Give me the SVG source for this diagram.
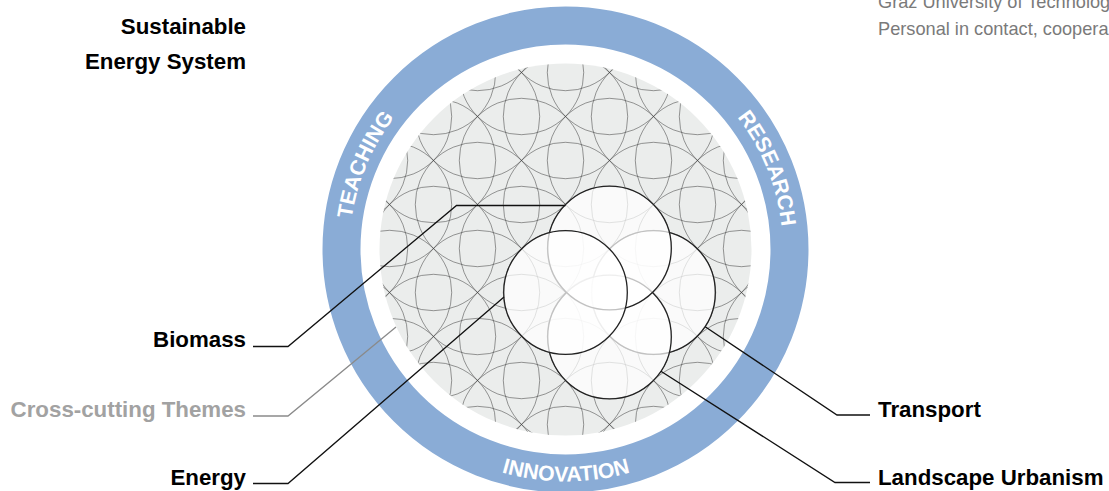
<svg xmlns="http://www.w3.org/2000/svg" xmlns:xlink="http://www.w3.org/1999/xlink" width="1109" height="491" viewBox="0 0 1109 491">
<style>
.lbl{font-family:"Liberation Sans",Arial,Helvetica,sans-serif;font-weight:bold;font-size:22.3px;fill:#000}
.gray{fill:#a2a2a2}
.note{font-family:"Liberation Sans",Arial,Helvetica,sans-serif;font-size:18.2px;fill:#7a7a7a}
.ring{font-family:"Liberation Sans",Arial,Helvetica,sans-serif;font-weight:bold;font-size:21.3px;fill:#fff}
.pat circle{fill:none;stroke:#333;stroke-opacity:0.55;stroke-width:0.9}
.big{fill:#fff;fill-opacity:0.72;stroke:#222;stroke-width:1.3}
.conn{fill:none;stroke:#111;stroke-width:1.3}
.conn .g{stroke:#8a8a8a}
</style>
<defs>
<clipPath id="disk"><circle cx="565.5" cy="249.5" r="186"/></clipPath>
<path id="pTeach" d="M365.1,331.2 A216.7,216.7 0 0 1 484.8,49.1"/>
<path id="pRes" d="M650.7,50.5 A216.7,216.7 0 0 1 765.5,334.7"/>
<path id="pInno" d="M402.4,413.6 A231.3,231.3 0 0 0 729.6,413.6"/>
</defs>
<rect width="1109" height="491" fill="#fff"/>
<g id="ring">
<circle cx="565.5" cy="249.5" r="224" fill="none" stroke="#8aacd6" stroke-width="38"/>
<text class="ring"><textPath href="#pTeach" xlink:href="#pTeach" startOffset="50%" text-anchor="middle">TEACHING</textPath></text>
<text class="ring"><textPath href="#pRes" xlink:href="#pRes" startOffset="50%" text-anchor="middle">RESEARCH</textPath></text>
<text class="ring"><textPath href="#pInno" xlink:href="#pInno" startOffset="50%" text-anchor="middle">INNOVATION</textPath></text>
</g>
<g id="cross-cutting-disk">
<circle cx="565.5" cy="249.5" r="186" fill="#ebedec"/>
<g clip-path="url(#disk)">
<g class="pat" transform="translate(565.5,248.5)">
<circle cx="0" cy="-220" r="62.2"/><circle cx="0" cy="-132" r="62.2"/><circle cx="0" cy="-44" r="62.2"/><circle cx="0" cy="44" r="62.2"/><circle cx="0" cy="132" r="62.2"/><circle cx="0" cy="220" r="62.2"/>
<circle cx="-44" cy="-176" r="62.2"/><circle cx="-44" cy="-88" r="62.2"/><circle cx="-44" cy="0" r="62.2"/><circle cx="-44" cy="88" r="62.2"/><circle cx="-44" cy="176" r="62.2"/>
<circle cx="44" cy="-176" r="62.2"/><circle cx="44" cy="-88" r="62.2"/><circle cx="44" cy="0" r="62.2"/><circle cx="44" cy="88" r="62.2"/><circle cx="44" cy="176" r="62.2"/>
<circle cx="-88" cy="-220" r="62.2"/><circle cx="-88" cy="-132" r="62.2"/><circle cx="-88" cy="-44" r="62.2"/><circle cx="-88" cy="44" r="62.2"/><circle cx="-88" cy="132" r="62.2"/><circle cx="-88" cy="220" r="62.2"/>
<circle cx="88" cy="-220" r="62.2"/><circle cx="88" cy="-132" r="62.2"/><circle cx="88" cy="-44" r="62.2"/><circle cx="88" cy="44" r="62.2"/><circle cx="88" cy="132" r="62.2"/><circle cx="88" cy="220" r="62.2"/>
<circle cx="-132" cy="-176" r="62.2"/><circle cx="-132" cy="-88" r="62.2"/><circle cx="-132" cy="0" r="62.2"/><circle cx="-132" cy="88" r="62.2"/><circle cx="-132" cy="176" r="62.2"/>
<circle cx="132" cy="-176" r="62.2"/><circle cx="132" cy="-88" r="62.2"/><circle cx="132" cy="0" r="62.2"/><circle cx="132" cy="88" r="62.2"/><circle cx="132" cy="176" r="62.2"/>
<circle cx="-176" cy="-132" r="62.2"/><circle cx="-176" cy="-44" r="62.2"/><circle cx="-176" cy="44" r="62.2"/><circle cx="-176" cy="132" r="62.2"/>
<circle cx="176" cy="-132" r="62.2"/><circle cx="176" cy="-44" r="62.2"/><circle cx="176" cy="44" r="62.2"/><circle cx="176" cy="132" r="62.2"/>
<circle cx="-220" cy="-88" r="62.2"/><circle cx="-220" cy="0" r="62.2"/><circle cx="-220" cy="88" r="62.2"/>
<circle cx="220" cy="-88" r="62.2"/><circle cx="220" cy="0" r="62.2"/><circle cx="220" cy="88" r="62.2"/>
</g>
</g>
</g>
<g id="transport-circle"><circle class="big" cx="653.5" cy="292.5" r="61.8"/></g>
<g id="landscape-circle"><circle class="big" cx="609.5" cy="337" r="61.8"/></g>
<g id="biomass-circle"><circle class="big" cx="609.5" cy="248" r="61.8"/></g>
<g id="energy-circle"><circle class="big" cx="565.5" cy="292.5" r="61.8"/></g>
<g id="connectors" class="conn">
<polyline points="253,346.5 288,346.5 456.5,205.5 565.5,205.5"/>
<polyline class="g" points="253,416 288,416 396,327"/>
<polyline points="253,483.5 288,483.5 504,297"/>
<polyline points="870,415 837,415 705.2,326.7"/>
<polyline points="870,482.5 835,482.5 660.9,371.2"/>
</g>
<g id="title"><text class="lbl" x="246" y="34" text-anchor="end">Sustainable</text><text class="lbl" x="246" y="69" text-anchor="end">Energy System</text></g>
<g id="note"><text class="note" x="878" y="8">Graz University of Technolog</text><text class="note" x="878" y="35">Personal in contact, coopera</text></g>
<g id="biomass-label"><text class="lbl" x="246" y="346.5" text-anchor="end">Biomass</text></g>
<g id="cross-label"><text class="lbl gray" x="246" y="416.5" text-anchor="end">Cross-cutting Themes</text></g>
<g id="energy-label"><text class="lbl" x="246" y="485" text-anchor="end">Energy</text></g>
<g id="transport-label"><text class="lbl" x="878" y="416.5">Transport</text></g>
<g id="landscape-label"><text class="lbl" x="878" y="485">Landscape Urbanism</text></g>
</svg>
